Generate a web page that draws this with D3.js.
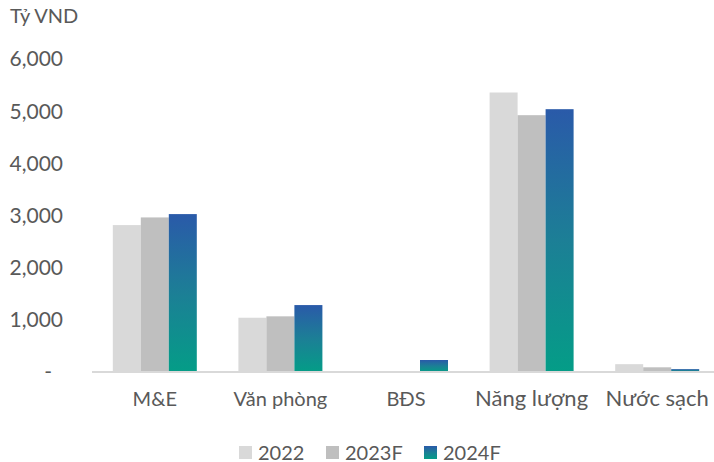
<!DOCTYPE html>
<html><head><meta charset="utf-8">
<script src="https://cdn.jsdelivr.net/npm/d3@7"></script>
<style>
html,body{margin:0;padding:0;background:#fff;}
svg{display:block;font-family:Lato, "Noto Sans", sans-serif;}
</style></head>
<body>
<svg id="c" width="714" height="462"></svg>
<script>
const categories = ["M&E", "Văn phòng", "BĐS", "Năng lượng", "Nước sạch"];
const seriesNames = ["2022", "2023F", "2024F"];
const values2022 = [2816, 1040, 0, 5358, 150];
const values2023F = [2963, 1067, 0, 4923, 90];
const values2024F = [3027, 1283, 230, 5038, 55];
const yTicks = [0, 1000, 2000, 3000, 4000, 5000, 6000];
const unitLabel = "Tỷ VND";

const seriesValues = [values2022, values2023F, values2024F];
const svg = d3.select("#c");
const textColor = "#595959";

const defs = svg.append("defs");
const grad = defs.append("linearGradient").attr("id", "g24")
  .attr("x1", 0).attr("y1", 0).attr("x2", 0).attr("y2", 1);
grad.append("stop").attr("offset", "0%").attr("stop-color", "#2a5aa9");
grad.append("stop").attr("offset", "50%").attr("stop-color", "#1c7f96");
grad.append("stop").attr("offset", "100%").attr("stop-color", "#049d87");
const fills = ["#d9d9d9", "#bfbfbf", "url(#g24)"];

const x = d3.scaleBand().domain(categories).range([92, 720]).paddingInner(0).paddingOuter(0);
const x1 = d3.scaleBand().domain(seriesNames).range([20.8, x.bandwidth() - 20.8]).padding(0);
const y = d3.scaleLinear().domain([0, 6000]).range([372, 59]);

// unit
svg.append("text").attr("x", 10).attr("y", 23).attr("fill", textColor)
  .style("font-size", "20px").text(unitLabel);

// y tick labels
svg.append("g").selectAll("text").data(yTicks).join("text")
  .attr("x", d => d === 0 ? 52 : 63)
  .attr("y", d => y(d))
  .attr("dy", "0.35em")
  .attr("text-anchor", "end")
  .attr("fill", textColor)
  .style("font-size", "21px")
  .text(d => d === 0 ? "-" : d3.format(",")(d));

// bars
const groups = svg.append("g").selectAll("g").data(categories).join("g")
  .attr("transform", d => `translate(${x(d)},0)`);
groups.selectAll("rect").data((c, i) => seriesNames.map((s, j) => ({s, j, v: seriesValues[j][i]})))
  .join("rect")
  .attr("x", d => x1(d.s))
  .attr("width", x1.bandwidth())
  .attr("y", d => y(d.v))
  .attr("height", d => y(0) - y(d.v))
  .attr("fill", d => fills[d.j]);

// baseline
svg.append("line").attr("x1", 92).attr("x2", 714).attr("y1", y(0)).attr("y2", y(0))
  .attr("stroke", "#d9d9d9").attr("stroke-width", 2);

// category labels
svg.append("g").selectAll("text").data(categories).join("text")
  .attr("x", d => x(d) + x.bandwidth() / 2)
  .attr("y", 406)
  .attr("text-anchor", "middle")
  .attr("fill", textColor)
  .style("font-size", (d, i) => i >= 3 ? "22px" : "20px")
  .text(d => d);

// legend
const legendX = [239, 326, 424];
const lg = svg.append("g").selectAll("g").data(seriesNames).join("g")
  .attr("transform", (d, i) => `translate(${legendX[i]},446)`);
lg.append("rect").attr("width", 13).attr("height", 13).attr("fill", (d, i) => fills[i]);
lg.append("text").attr("x", 19).attr("y", 13.5).attr("fill", textColor)
  .style("font-size", "20px").text(d => d);
</script>
</body></html>
